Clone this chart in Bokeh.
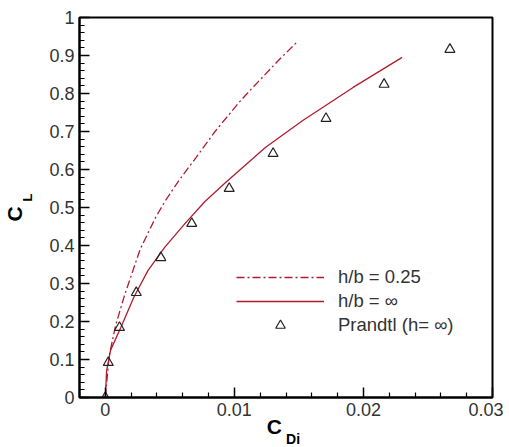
import math
from bokeh.plotting import figure
from bokeh.models import (Range1d, FixedTicker, CustomJSTickFormatter, LinearAxis,
                          Legend, LegendItem)
from bokeh.embed import file_html
from bokeh.resources import INLINE

# ---- data ----
cdi_h025 = [0, 0.0003, 0.0008, 0.0015, 0.0021, 0.0027, 0.0039, 0.0046, 0.0057,
            0.0070, 0.0085, 0.0104, 0.0114, 0.0135, 0.0149]
cl_h025 = [0, 0.11, 0.19, 0.27, 0.33, 0.39, 0.474, 0.515, 0.571,
           0.630, 0.700, 0.778, 0.815, 0.890, 0.937]

cdi_inf = [0, 0.0001, 0.0004, 0.0012, 0.0022, 0.0033, 0.0046, 0.0061, 0.0077,
           0.0093, 0.0124, 0.0153, 0.0192, 0.0230]
cl_inf = [0, 0.07, 0.124, 0.184, 0.263, 0.334, 0.395, 0.455, 0.515,
          0.565, 0.658, 0.729, 0.816, 0.895]

cdi_prandtl = [0, 0.00023, 0.0011, 0.0024, 0.0043, 0.0067, 0.0096, 0.0130,
               0.0171, 0.0216, 0.0267]
cl_prandtl = [0, 0.092, 0.184, 0.276, 0.368, 0.458, 0.55, 0.642, 0.734,
              0.824, 0.916]

x_major = [0, 0.01, 0.02, 0.03]
x_minor = [-0.002, 0.002, 0.004, 0.006, 0.008, 0.012, 0.014, 0.016, 0.018,
           0.022, 0.024, 0.026, 0.028]
y_major = [0, 0.1, 0.2, 0.3, 0.4, 0.5, 0.6, 0.7, 0.8, 0.9, 1.0]
y_minor = [i / 50 for i in range(51)]

legend_labels = ["h/b = 0.25", "h/b = \u221e", "Prandtl (h= \u221e)"]
x_title = ("C", "Di")
y_title = ("C", "L")

RED = "#b01c2e"
FONT = "Liberation Sans"

p = figure(frame_width=413, frame_height=380,
           x_range=Range1d(-0.002, 0.03), y_range=Range1d(0, 1),
           output_backend="svg", toolbar_location=None,
           min_border_left=77, min_border_top=17, min_border_right=11,
           min_border_bottom=50)
p.width = 501
p.height = 447
p.grid.visible = False
p.outline_line_color = "black"
p.outline_line_width = 2
p.background_fill_color = "white"
p.border_fill_color = "white"

fmt = CustomJSTickFormatter(code="return String(Math.round(tick*1000)/1000);")

for ax, major, minor in ((p.xaxis[0], x_major, x_minor), (p.yaxis[0], y_major, y_minor)):
    ax.ticker = FixedTicker(ticks=major, minor_ticks=minor)
    ax.formatter = fmt
    ax.axis_line_width = 2
    ax.axis_line_color = "black"
    ax.major_tick_in = 10
    ax.major_tick_out = 0
    ax.minor_tick_in = 5
    ax.minor_tick_out = 0
    ax.major_tick_line_width = 1.5
    ax.minor_tick_line_width = 1.2
    ax.major_tick_line_color = "black"
    ax.minor_tick_line_color = "black"
    ax.major_label_text_font = FONT
    ax.major_label_text_font_size = "18px"
    ax.major_label_text_color = "#333333"
    ax.major_label_standoff = 5

r1 = p.line(cdi_h025, cl_h025, line_color=RED, line_width=1.3, line_dash="8 3 2 3")
r2 = p.line(cdi_inf, cl_inf, line_color=RED, line_width=1.3)
r3 = p.scatter(cdi_prandtl, cl_prandtl, marker="triangle", size=10,
               fill_color=None, line_color="#222222", line_width=1.2)

legend = Legend(items=[LegendItem(label=legend_labels[0], renderers=[r1]),
                       LegendItem(label=legend_labels[1], renderers=[r2]),
                       LegendItem(label=legend_labels[2], renderers=[r3])],
                location=(157, 60), glyph_width=88, glyph_height=24,
                label_height=24, spacing=0, padding=0, margin=0,
                label_standoff=14, label_text_font=FONT,
                label_text_font_size="18.5px", label_text_color="#333333",
                border_line_color=None, background_fill_alpha=0)
p.add_layout(legend)


# axis titles (with subscripts) drawn as extra, line-less axes
def title_axis(side, pos, text, size, standoff):
    ax = LinearAxis(ticker=FixedTicker(ticks=[pos], minor_ticks=[]),
                    formatter=CustomJSTickFormatter(code="return %r;" % text),
                    axis_line_color=None, major_tick_line_color=None,
                    minor_tick_line_color=None, major_tick_in=0, major_tick_out=0,
                    minor_tick_in=0, minor_tick_out=0,
                    major_label_text_font=FONT, major_label_text_font_size=size,
                    major_label_text_font_style="bold",
                    major_label_text_color="black",
                    major_label_standoff=standoff)
    if side == "left":
        ax.major_label_orientation = "parallel"
    p.add_layout(ax, side)


title_axis("below", 0.01310, x_title[0], "21px", -4)
title_axis("below", 0.01455, x_title[1], "14px", -10)
title_axis("left", 0.526, y_title[1], "13px", 11)
title_axis("left", 0.483, y_title[0], "21px", -9)

open("out.html", "w").write(file_html(p, INLINE))
